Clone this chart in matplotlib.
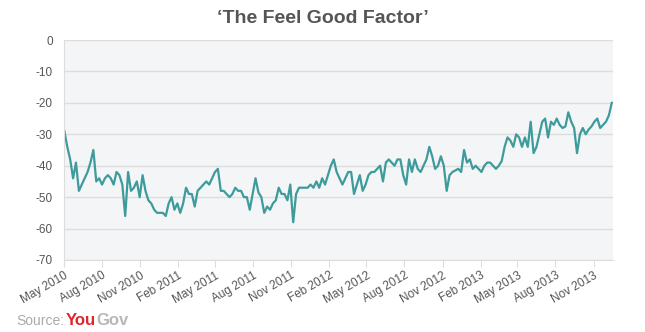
"""Weekly 'Feel Good Factor' tracker, May 2010 - Dec 2013."""

import matplotlib
matplotlib.use("Agg")
import matplotlib.pyplot as plt
import matplotlib.dates as mdates
import pandas as pd

plt.rcParams["font.family"] = ["Liberation Sans", "DejaVu Sans"]
plt.rcParams["axes.unicode_minus"] = False

# weekly net score (feel good minus feel bad)
first_week = "2010-05-02"
feel_good = [
    -29, -34, -38, -44, -39, -48, -46, -44, -42, -39,
    -35, -45, -44, -46, -44, -43, -44, -46, -42, -43,
    -46, -56, -42, -48, -47, -45, -50, -43, -48, -51,
    -52, -54, -55, -55, -55, -56, -52, -50, -54, -52,
    -55, -52, -47, -49, -49, -53, -48, -47, -46, -45,
    -46, -44, -42, -41, -48, -48, -49, -50, -49, -47,
    -48, -48, -50, -50, -54, -49, -44, -48.5, -50, -55,
    -53, -54, -52, -51, -47, -49, -49, -51, -46, -58,
    -49, -47, -47, -47, -47, -46, -47, -45, -47, -44,
    -46, -43, -40, -38, -42, -44, -46, -44, -42, -42,
    -49, -46, -43, -48, -46, -43, -42, -42, -41, -40,
    -45, -39, -38, -39, -40, -38, -38, -43, -46, -38,
    -42, -38, -41, -42, -40, -38, -34, -37, -41, -40,
    -37, -40, -48, -43, -42, -41.5, -41, -42, -35, -39,
    -38, -41, -40, -41, -42, -40, -39, -39, -40, -41,
    -40, -38.5, -34, -31, -32, -34, -30, -31, -34, -31,
    -34, -26, -36, -34, -30, -26, -25, -31, -26, -27,
    -25, -27, -28, -27.5, -23, -26, -28, -36, -30, -28,
    -30, -28.5, -27.5, -26, -25, -28, -27, -26, -24, -20,
]
weeks = pd.date_range(first_week, periods=len(feel_good), freq="7D")

y_ticks = list(range(-70, 1, 10))

LINE = "#3e9b9b"
TEXT = "#555555"
GRID = "#dddddd"
PANEL = "#f4f5f7"

fig = plt.figure(figsize=(6.45, 3.32), dpi=100)
ax = fig.add_axes([0.0992, 0.2169, 0.8512, 0.6626])
ax.set_facecolor(PANEL)

ax.plot(weeks, feel_good, color=LINE, lw=1.6, solid_joinstyle="round")

ax.set_ylim(-70, 0)
ax.set_yticks(y_ticks)
ax.set_xlim(pd.Timestamp("2010-05-01"), pd.Timestamp("2013-12-18"))
ax.xaxis.set_major_locator(mdates.MonthLocator(bymonth=[2, 5, 8, 11]))
ax.xaxis.set_major_formatter(mdates.DateFormatter("%b %Y"))

ax.grid(axis="y", color=GRID, lw=1.0)
ax.set_axisbelow(True)
for side in ("top", "right"):
    ax.spines[side].set_visible(False)
ax.spines["left"].set_color(GRID)
ax.spines["bottom"].set_color(GRID)

ax.tick_params(axis="y", length=0, pad=8, labelsize=8.5, labelcolor=TEXT)
ax.tick_params(axis="x", length=5, color=GRID, pad=2, labelsize=8.5, labelcolor=TEXT)
for lab in ax.get_xticklabels():
    lab.set_rotation(30)
    lab.set_ha("right")
    lab.set_va("top")
    lab.set_rotation_mode("anchor")

fig.text(0.5, 0.945, "\u2018The Feel Good Factor\u2019", ha="center", va="center",
         fontsize=14, fontweight="bold", color=TEXT)

# source line with the YouGov wordmark
src = fig.text(0.026, 0.02, "Source:", fontsize=10, color="#aaaaaa", va="baseline")
fig.canvas.draw()
bb = src.get_window_extent()
x_you = bb.x1 / fig.bbox.width + 0.002
you = fig.text(x_you, 0.02, "You", fontsize=12, fontweight="bold", color="#e0262b", va="baseline")
fig.canvas.draw()
bb = you.get_window_extent()
fig.text(bb.x1 / fig.bbox.width, 0.02, "Gov", fontsize=12, fontweight="bold",
         color="#b8b8b8", va="baseline")

fig.savefig("out.png", dpi=100, facecolor="white")
